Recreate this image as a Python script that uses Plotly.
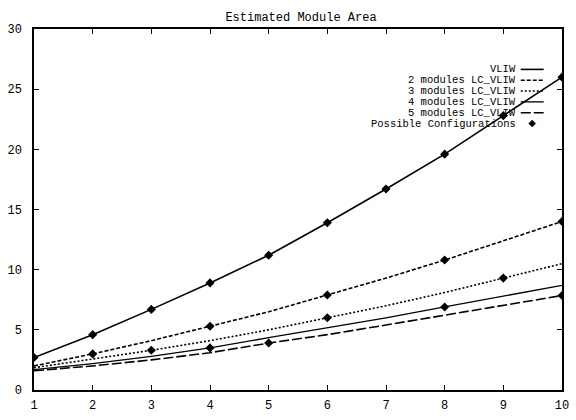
import plotly.graph_objects as go

issue_width = [1, 2, 3, 4, 5, 6, 7, 8, 9, 10]
vliw = [2.7, 4.6, 6.7, 8.9, 11.2, 13.9, 16.7, 19.6, 22.8, 26.0]
mod2 = [2.0, 3.0, 4.1, 5.3, 6.5, 7.9, 9.3, 10.8, 12.4, 14.0]
mod3 = [1.85, 2.55, 3.3, 4.1, 5.0, 6.0, 7.0, 8.1, 9.3, 10.5]
mod4 = [1.7, 2.2, 2.8, 3.5, 4.35, 5.15, 6.0, 6.9, 7.8, 8.7]
mod5 = [1.6, 2.0, 2.5, 3.1, 3.9, 4.6, 5.4, 6.2, 7.0, 7.85]

# possible configurations (issue width, area)
cfg_x = [1, 2, 3, 4, 5, 6, 7, 8, 9, 10,
         2, 4, 6, 8, 10,
         3, 6, 9,
         4, 8,
         5, 10]
cfg_y = vliw + [mod2[1], mod2[3], mod2[5], mod2[7], mod2[9],
                mod3[2], mod3[5], mod3[8],
                mod4[3], mod4[7],
                mod5[4], mod5[9]]

series = [
    ("VLIW", vliw, "solid", 1.6),
    ("2 modules LC_VLIW", mod2, "4px,2px", 1.6),
    ("3 modules LC_VLIW", mod3, "2px,2px", 1.6),
    ("4 modules LC_VLIW", mod4, "solid", 1.3),
    ("5 modules LC_VLIW", mod5, "10px,3px", 1.6),
]
cfg_name = "Possible Configurations"

FONT = "Liberation Mono, Courier New, DejaVu Sans Mono, monospace"
W, H = 576, 420

fig = go.Figure()
for name, ys, dash, w in series:
    fig.add_trace(go.Scatter(x=issue_width, y=ys, mode="lines", name=name,
                             line=dict(color="black", width=w, dash=dash)))
fig.add_trace(go.Scatter(x=cfg_x, y=cfg_y, mode="markers", name=cfg_name,
                         marker=dict(symbol="diamond", color="black", size=7)))

axis_common = dict(showline=True, linecolor="black", linewidth=1.5, mirror="ticks",
                   ticks="inside", ticklen=5, tickcolor="black", tickwidth=1.2,
                   showgrid=False, zeroline=False,
                   tickfont=dict(family=FONT, size=12, color="black"))

fig.update_xaxes(range=[1, 10], tickvals=issue_width, ticklabelstandoff=3, **axis_common)
fig.update_yaxes(range=[0, 30], tickvals=[0, 5, 10, 15, 20, 25, 30], ticklabelstandoff=8,
                 **axis_common)

# gnuplot-style key: text right-aligned, sample on the right
annotations = []
shapes = []
row0, row_step = 47, 12.6
text_right, samp_l, samp_r = 527, 531, 556
KEY_FONT = dict(family=FONT, size=10.5, color="black")
for i, (name, ys, dash, w) in enumerate(series):
    py = 1 - (row0 + row_step * i) / H
    annotations.append(dict(text=name, x=text_right / W, y=py, xref="paper", yref="paper",
                            xanchor="right", yanchor="middle", showarrow=False,
                            borderpad=0, font=KEY_FONT))
    shapes.append(dict(type="line", xref="paper", yref="paper", x0=samp_l / W, x1=samp_r / W,
                       y0=py, y1=py, line=dict(color="black", width=w, dash=dash)))
py = 1 - (row0 + row_step * len(series)) / H
annotations.append(dict(text=cfg_name, x=text_right / W, y=py, xref="paper", yref="paper",
                        xanchor="right", yanchor="middle", showarrow=False,
                        borderpad=0, font=KEY_FONT))
shapes.append(dict(type="path", xref="paper", yref="paper", xsizemode="pixel",
                   ysizemode="pixel", xanchor=(samp_l + samp_r) / 2 / W, yanchor=py,
                   path="M0,3.5 L3.5,0 L0,-3.5 L-3.5,0 Z",
                   fillcolor="black", line=dict(color="black", width=0.5)))

fig.update_layout(
    width=W, height=H,
    margin=dict(l=33, r=7, t=29, b=17),
    paper_bgcolor="white", plot_bgcolor="white",
    title=dict(text="Estimated Module Area", x=(33 + 569) / 2 / W, xanchor="center",
               y=1 - 17 / H, yanchor="middle",
               font=dict(family=FONT, size=12, color="black")),
    showlegend=False,
    annotations=annotations,
    shapes=shapes,
)

fig.write_html("out.html", config={"displayModeBar": False},
               post_script="document.body.style.margin='0px';")
